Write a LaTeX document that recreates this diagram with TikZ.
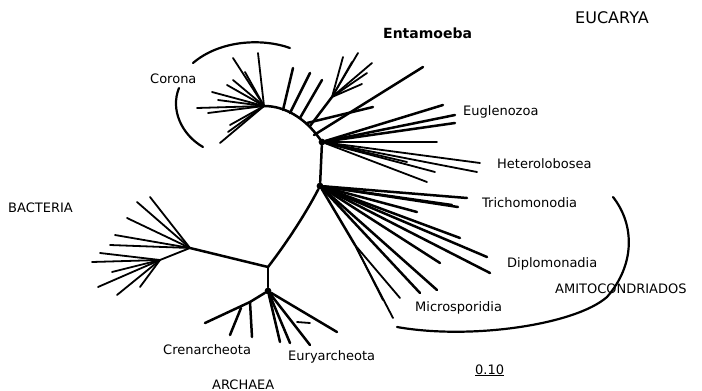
\documentclass[tikz,border=0pt]{standalone}
\usepackage{fontspec}
\setmainfont{DejaVu Sans}
\usetikzlibrary{positioning}

\begin{document}
\begin{tikzpicture}[
    x=1pt, y=-1pt,
    every node/.style={font=\fontsize{13}{15}\selectfont, inner sep=0pt, anchor=base west},
    branch/.style={line width=2.5pt, line cap=round},
    twig/.style={line width=1.8pt, line cap=round},
    bracket/.style={line width=2.2pt, line cap=round},
    hub/.style={circle, fill, inner sep=2.4pt, anchor=center},
    big/.style={font=\fontsize{16}{18}\selectfont}
]
\useasboundingbox (0,0) rectangle (702,391);

% junctions of the tree
\coordinate (euk1) at (322,142);
\coordinate (euk2) at (320,186);
\coordinate (root) at (268,267);
\coordinate (arch) at (268,291);
\coordinate (bact) at (190,248);
\coordinate (coro) at (264,106);

\node[hub] (h1) at (euk1) {};
\node[hub] (h2) at (euk2) {};
\node[hub] (h3) at (arch) {};

% trunk
\draw[branch] (h1) -- (h2);
\draw[branch] (h2) .. controls (305,215) and (285,245) .. (root);
\draw[branch] (root) -- (h3);
\draw[branch] (root) -- (bact);
\draw[branch] (h1) .. controls (305,118) and (285,106) .. (coro);

% Eucarya: branches along the arc
\draw[branch] (283,110) -- (293,68);
\draw[branch] (290,113) -- (310,73);
\draw[branch] (300,118) -- (322,80);
\draw[branch] (307,123) -- (373,107);
\draw[branch] (310,126) -- (332,97);
\foreach \p in {(343,57),(352,62),(358,53),(372,63),(367,73),(362,84)}
    \draw[twig] (332,97) -- \p;
\draw[branch] (314,135) -- (423,67);

% Corona
\foreach \p in {(233,58),(258,53),(245,72),(227,85),(233,80),(218,100),
                (197,108),(208,113),(230,125),(228,132),(220,143),(212,92)}
    \draw[twig] (coro) -- \p;
\draw[bracket] (290,48) .. controls (262,38) and (220,40) .. (193,63);
\draw[bracket] (179,88) .. controls (170,110) and (182,135) .. (203,147);

% Euglenozoa and Heterolobosea
\foreach \p in {(443,105),(455,115),(455,123)}
    \draw[branch] (h1) -- \p;
\foreach \p in {(437,142),(480,163),(477,172),(435,172),(427,182),(407,162)}
    \draw[twig] (h1) -- \p;

% Trichomonodia, Diplomonadia, Microsporidia
\foreach \p in {(467,198),(458,207),(452,205)}
    \draw[branch] (h2) -- \p;
\foreach \p in {(417,212),(460,238),(487,257),(490,273),(440,263)}
    \draw[branch] (h2) -- \p;
\coordinate (micr) at (355,245);
\draw[branch] (h2) -- (micr);
\foreach \p in {(393,318),(400,298),(383,300)}
    \draw[twig] (micr) -- \p;
\draw[branch] (h2) -- (437,290);
\draw[branch] (h2) -- (420,293);

% Bacteria
\foreach \p in {(137,202),(150,197),(127,218),(115,235),(110,245)}
    \draw[twig] (bact) -- \p;
\coordinate (bsub) at (160,260);
\draw[twig] (bact) -- (bsub);
\foreach \p in {(100,253),(92,262),(112,272),(98,287),(117,295),(140,287)}
    \draw[twig] (bsub) -- \p;

% Archaea
\coordinate (cren) at (250,302);
\draw[branch] (h3) -- (cren) -- (205,323);
\draw[branch] (cren) -- (252,337);
\draw[branch] (241,308) -- (230,335);
\foreach \p in {(337,332),(280,342),(290,343),(310,345)}
    \draw[branch] (h3) -- \p;
\draw[twig] (297,322) -- (310,323);

% amitochondrial bracket
\draw[bracket] (613,197) .. controls (635,225) and (635,265) .. (607,297)
    .. controls (575,325) and (470,340) .. (397,327);

% labels
\node[font=\fontsize{14}{16}\selectfont\bfseries] (lEnt) at (383,38) {Entamoeba};
\node[big] (lEuk) at (575,23) {EUCARYA};
\node (lCor) at (150,83) {Corona};
\node (lEug) at (463,115) {Euglenozoa};
\node (lHet) at (497,168) {Heterolobosea};
\node (lTri) at (482,207) {Trichomonodia};
\node (lBac) at (8,212) {BACTERIA};
\node (lDip) at (507,267) {Diplomonadia};
\node (lAmi) at (555,293) {AMITOCONDRIADOS};
\node (lMic) at (415,311) {Microsporidia};
\node (lCre) at (163,354) {Crenarcheota};
\node (lEur) at (288,360) {Euryarcheota};
\node (lArc) at (212,389) {ARCHAEA};
\node (lSca) at (475,374) {\underline{0.10}};

\end{tikzpicture}
\end{document}
